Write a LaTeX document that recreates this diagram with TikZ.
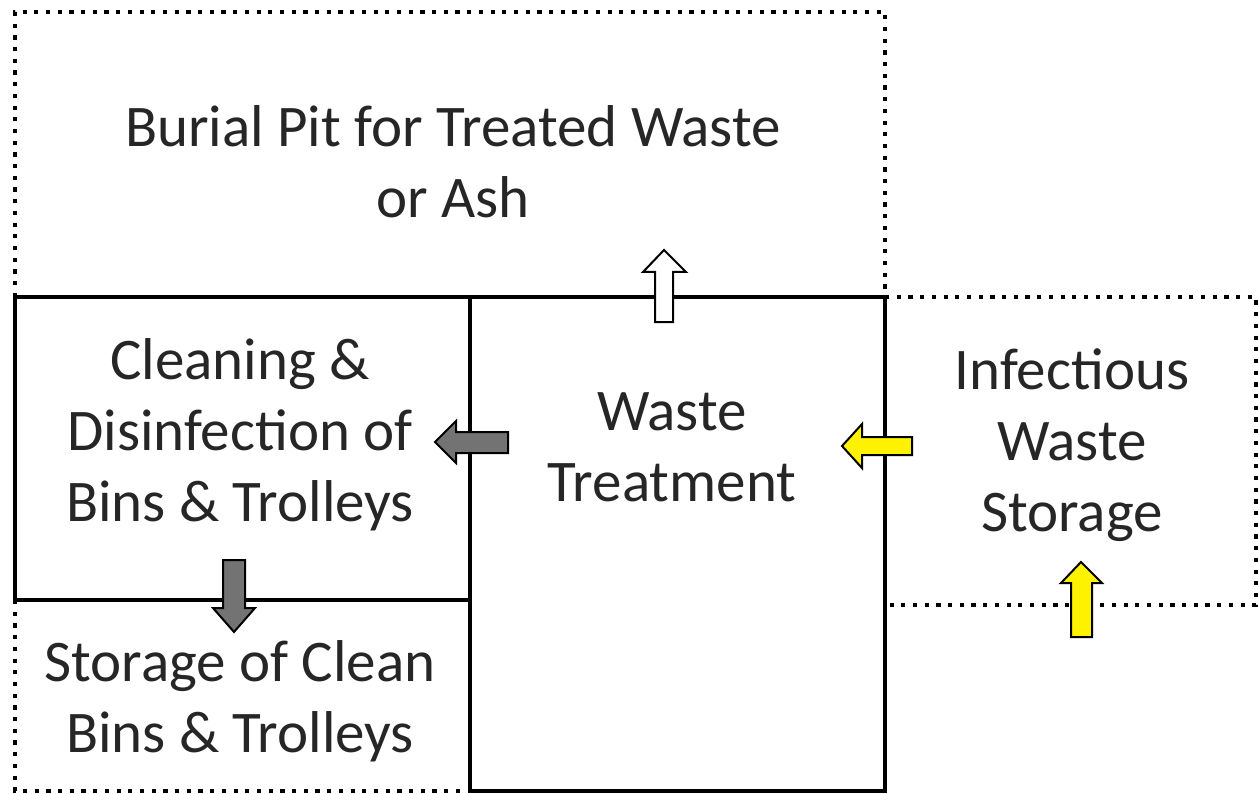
\documentclass[tikz,border=0pt]{standalone}
\usepackage{fontspec}
\setmainfont{Carlito}
\begin{document}
\begin{tikzpicture}[x=1pt,y=-1pt,
  dotbox/.style={line width=4.2pt,dash pattern=on 4.2pt off 7.5pt,black},
  solidbox/.style={line width=3.2pt,black},
  lbl/.style={font=\fontsize{59}{71}\selectfont,align=center,text=black!85,inner sep=0pt},
  blk/.style={draw=black,line width=2pt,line join=miter}]
\useasboundingbox (0,0) rectangle (1258,794);
% dotted regions
\draw[dotbox] (15,297) -- (15,12) -- (885,12) -- (885,297);
\draw[dotbox] (885,297) -- (1256,297) -- (1256,605) -- (885,605);
\draw[dotbox] (15,600) -- (15,791) -- (470,791);
% solid regions
\draw[solidbox] (15,297) rectangle (470,600);
\draw[solidbox] (470,297) rectangle (885,791);
% labels
\node[lbl] (burial) at (453,162) {Burial Pit for Treated Waste\\or Ash};
\node[lbl] (clean) at (240,435) {Cleaning \&\\Disinfection of\\Bins \& Trolleys};
\node[lbl] (treat) at (672,447) {Waste\\Treatment};
\node[lbl] (infect) at (1072,445) {Infectious\\Waste\\Storage};
\node[lbl] (store) at (240,701) {Storage of Clean\\Bins \& Trolleys};
% block arrows
\draw[blk,fill=white] (655,322) -- (655,272) -- (643,272) -- (664,250) -- (686,272) -- (673,272) -- (673,322) -- cycle;
\draw[blk,fill=black!55] (508,432) -- (456,432) -- (456,421) -- (435,442) -- (456,463) -- (456,453) -- (508,453) -- cycle;
\draw[blk,fill=yellow] (912,437) -- (862,437) -- (862,424) -- (842,446) -- (862,468) -- (862,455) -- (912,455) -- cycle;
\draw[blk,fill=black!55] (223,560) -- (223,608) -- (213,608) -- (234,632) -- (255,608) -- (245,608) -- (245,560) -- cycle;
\draw[blk,fill=yellow] (1071,637) -- (1071,583) -- (1061,583) -- (1081,562) -- (1102,583) -- (1092,583) -- (1092,637) -- cycle;
\end{tikzpicture}
\end{document}
